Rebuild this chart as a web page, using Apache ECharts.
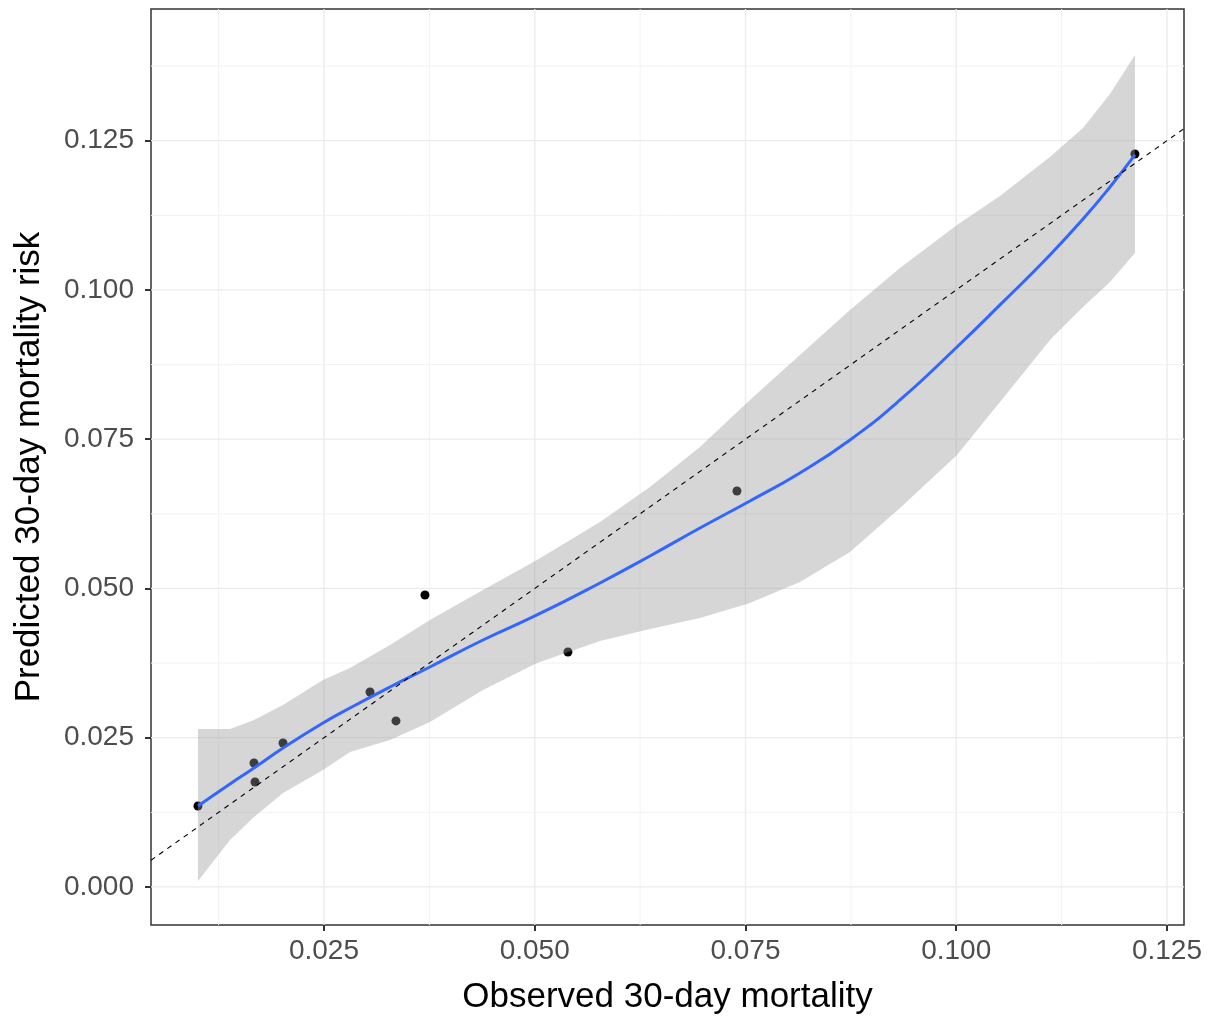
<!DOCTYPE html>
<html><head><meta charset="utf-8">
<script src="https://cdn.jsdelivr.net/npm/echarts@6/dist/echarts.min.js"></script>
<style>html,body{margin:0;padding:0;background:#fff;} #c{width:1211px;height:1020px;}</style>
</head><body><div id="c"></div>
<script>
// Observed points
const obsX  = [0.01005, 0.01670, 0.01682, 0.02014, 0.03046, 0.03354, 0.03698, 0.05394, 0.07399, 0.12120];
const predY = [0.01357, 0.02077, 0.01759, 0.02412, 0.03266, 0.02781, 0.04891, 0.03936, 0.06633, 0.12278];
// Loess fit and confidence band
const fitX     = [0.01005,0.01385,0.01670,0.02014,0.02488,0.02808,0.03283,0.03757,0.04386,0.05027,0.05774,0.06367,0.06960,0.07553,0.08146,0.08740,0.09333,0.10009,0.10519,0.11112,0.11504,0.11824,0.12120];
const fitY     = [0.01357,0.01725,0.01993,0.02328,0.02747,0.02998,0.03350,0.03685,0.04137,0.04556,0.05092,0.05544,0.06013,0.06466,0.06935,0.07487,0.08157,0.09045,0.09749,0.10586,0.11189,0.11725,0.12261];
const fitUpper = [0.02647,0.02647,0.02797,0.03049,0.03467,0.03668,0.04054,0.04472,0.04975,0.05477,0.06114,0.06700,0.07370,0.08157,0.08911,0.09665,0.10369,0.11089,0.11575,0.12228,0.12714,0.13283,0.13936];
const fitLower = [0.00101,0.00787,0.01173,0.01575,0.01960,0.02261,0.02462,0.02764,0.03300,0.03752,0.04121,0.04322,0.04506,0.04757,0.05109,0.05611,0.06348,0.07236,0.08124,0.09162,0.09715,0.10134,0.10620];
// Axis ticks
const xTicks = [0.025, 0.050, 0.075, 0.100, 0.125];
const yTicks = [0.000, 0.025, 0.050, 0.075, 0.100, 0.125];
const xMinor = [0.0125, 0.0375, 0.0625, 0.0875, 0.1125];
const yMinor = [0.0125, 0.0375, 0.0625, 0.0875, 0.1125, 0.1375];
const xRange = [0.00448, 0.12702];
const yRange = [-0.00637, 0.14706];

const FONT = "'Liberation Sans', Arial, sans-serif";
const chart = echarts.init(document.getElementById('c'), null, {renderer: 'canvas'});

// grid line records: [orientation (0 = vertical, 1 = horizontal), value, major flag]
const gridRows = [].concat(
  xMinor.map(v => [0, v, 0]), yMinor.map(v => [1, v, 0]),
  xTicks.map(v => [0, v, 1]), yTicks.map(v => [1, v, 1])
);

const option = {
  animation: false,
  backgroundColor: '#ffffff',
  grid: {left: 151, right: 27, top: 9, bottom: 95, show: true, borderColor: '#333333', borderWidth: 1.5, backgroundColor: 'transparent', outerBoundsMode: 'none'},
  xAxis: {
    type: 'value', min: xRange[0], max: xRange[1],
    name: 'Observed 30-day mortality', nameLocation: 'middle', nameGap: 55,
    nameTextStyle: {fontSize: 35, color: '#000000', fontFamily: FONT},
    axisLine: {show: false, onZero: false},
    axisTick: {show: true, length: 6, lineStyle: {color: '#333333', width: 2}, customValues: xTicks},
    axisLabel: {customValues: xTicks, formatter: v => v.toFixed(3), fontSize: 28, color: '#4D4D4D', fontFamily: FONT, margin: 12},
    splitLine: {show: false},
    minorSplitLine: {show: false}
  },
  yAxis: {
    type: 'value', min: yRange[0], max: yRange[1],
    name: 'Predicted 30-day mortality risk', nameLocation: 'middle', nameGap: 104, nameRotate: 90,
    nameTextStyle: {fontSize: 35, color: '#000000', fontFamily: FONT},
    axisLine: {show: false, onZero: false},
    axisTick: {show: true, length: 6, lineStyle: {color: '#333333', width: 2}, customValues: yTicks},
    axisLabel: {customValues: yTicks, formatter: v => v.toFixed(3), fontSize: 28, color: '#4D4D4D', fontFamily: FONT, margin: 17},
    splitLine: {show: false},
    minorSplitLine: {show: false}
  },
  series: [
    {
      type: 'custom', z: 1, silent: true, clip: true,
      data: gridRows,
      encode: {x: -1, y: -1},
      renderItem: function (params, api) {
        const orient = api.value(0), v = api.value(1), major = api.value(2);
        let p1, p2;
        if (orient === 0) { p1 = api.coord([v, yRange[0]]); p2 = api.coord([v, yRange[1]]); }
        else { p1 = api.coord([xRange[0], v]); p2 = api.coord([xRange[1], v]); }
        return {type: 'line', shape: {x1: p1[0], y1: p1[1], x2: p2[0], y2: p2[1]},
                style: {stroke: major ? '#EBEBEB' : '#F2F2F2', lineWidth: major ? 1.3 : 1}};
      }
    },
    {
      type: 'scatter', z: 2, symbolSize: 9,
      itemStyle: {color: '#000000', opacity: 1},
      data: obsX.map((x, i) => [x, predY[i]])
    },
    {
      type: 'custom', z: 3, silent: true,
      data: fitX.map((x, i) => [x, fitLower[i], fitUpper[i]]),
      encode: {x: 0, y: [1, 2]},
      renderItem: function (params, api) {
        if (params.dataIndex !== 0) return null;
        const pts = [];
        for (let i = 0; i < fitX.length; i++) pts.push(api.coord([fitX[i], fitUpper[i]]));
        for (let i = fitX.length - 1; i >= 0; i--) pts.push(api.coord([fitX[i], fitLower[i]]));
        return {type: 'polygon', shape: {points: pts}, style: {fill: 'rgba(153,153,153,0.4)', stroke: null}};
      }
    },
    {
      type: 'line', z: 4, smooth: 0.5, symbol: 'none',
      lineStyle: {color: '#3366FF', width: 3},
      data: fitX.map((x, i) => [x, fitY[i]])
    },
    {
      type: 'line', z: 5, symbol: 'none', clip: true,
      lineStyle: {color: '#000000', width: 1.1, type: [5, 5]},
      data: [[xRange[0], xRange[0]], [xRange[1], xRange[1]]]
    }
  ]
};
chart.setOption(option);
</script></body></html>
